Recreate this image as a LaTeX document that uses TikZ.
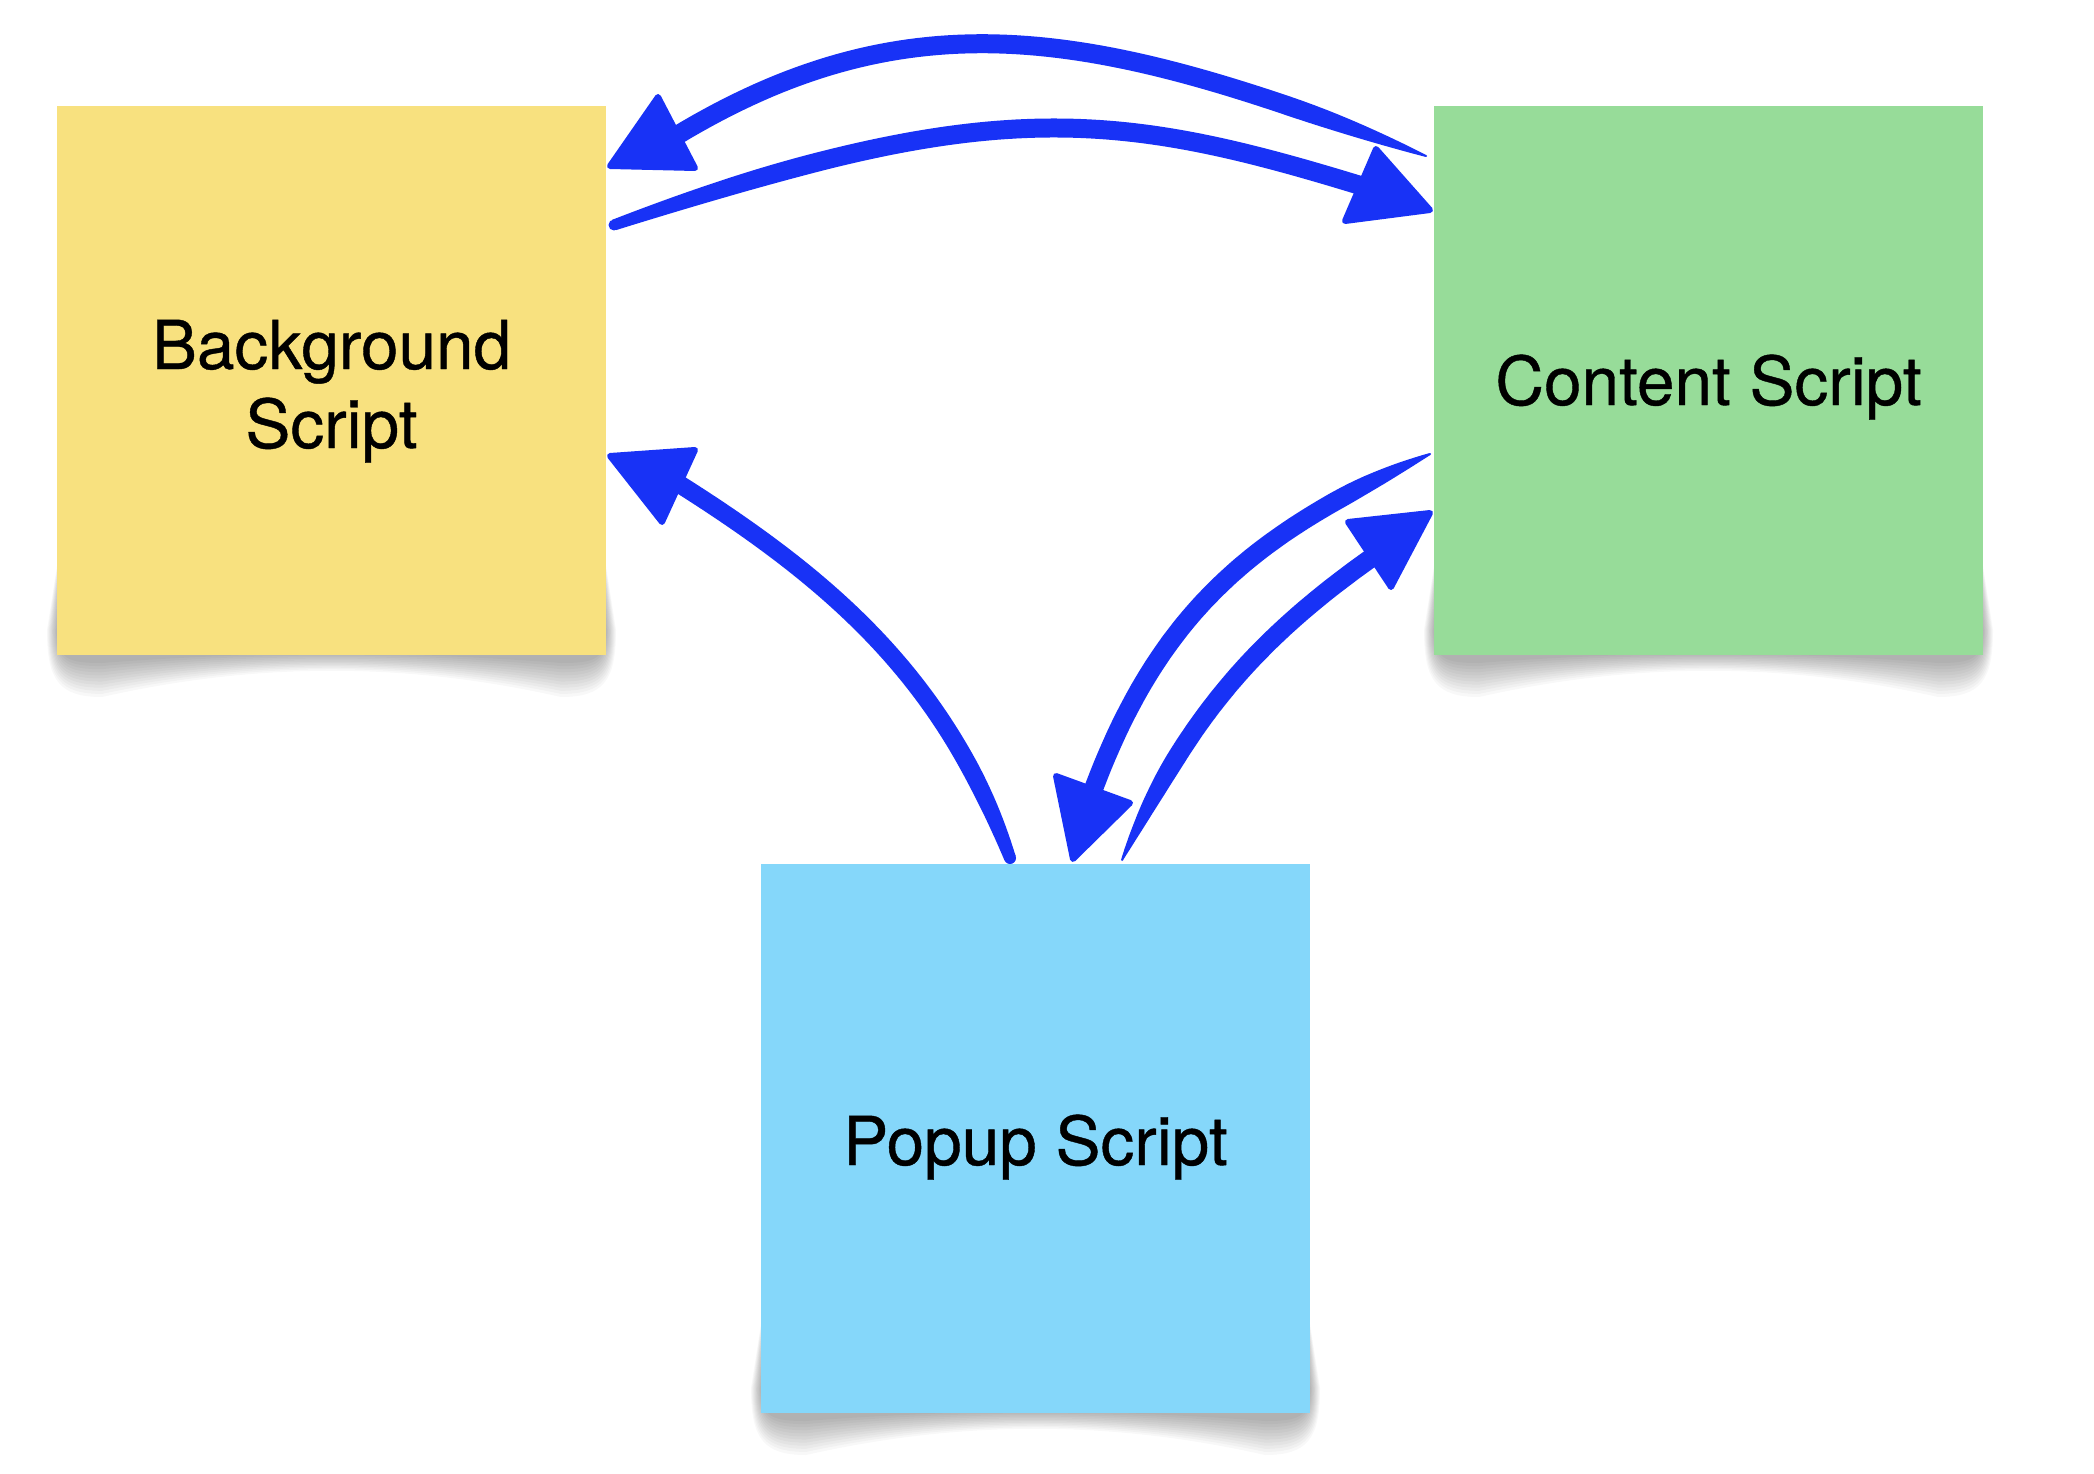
\documentclass[tikz,border=0pt]{standalone}
\usepackage{fontspec}
\setmainfont{TeX Gyre Heros}[FakeBold=0.6]
\definecolor{arrowblue}{RGB}{24,50,246}
\definecolor{stickyyellow}{RGB}{248,225,127}
\definecolor{stickygreen}{RGB}{151,220,153}
\definecolor{stickyblue}{RGB}{133,215,250}
% read the canvas position of a named coordinate into two macros (numbers in pt)
\newcommand\getxy[3]{\pgfpointanchor{#1}{center}\pgfgetlastxy{\gxtmp}{\gytmp}%
  \pgfmathsetmacro#2{\gxtmp}\pgfmathsetmacro#3{\gytmp}}
\tikzset{declare function={
  bzx(\vv)=(1-\vv)^3*\Xa+3*(1-\vv)^2*\vv*\Xb+3*(1-\vv)*\vv^2*\Xc+\vv^3*\Xd;
  bzy(\vv)=(1-\vv)^3*\Ya+3*(1-\vv)^2*\vv*\Yb+3*(1-\vv)*\vv^2*\Yc+\vv^3*\Yd;
  dzx(\vv)=0.03*((1-\vv)^2*(\Xb-\Xa)+2*(1-\vv)*\vv*(\Xc-\Xb)+\vv^2*(\Xd-\Xc));
  dzy(\vv)=0.03*((1-\vv)^2*(\Yb-\Ya)+2*(1-\vv)*\vv*(\Yc-\Yb)+\vv^2*(\Yd-\Yc));
  dzl(\vv)=sqrt(dzx(\vv)^2+dzy(\vv)^2);
  bw(\vv)=\Wmax-(\Wmax-\Wtail)*max(0,1-\vv/\Ttap)^2;
}}
% brush shaft: filled band along the cubic from #1 via #2,#3 to #4 (coordinate names),
% #5 tail width, #6 full width, #7 part of the curve over which it widens
\newcommand\brushshaft[7]{%
  \getxy{#1}\Xa\Ya\getxy{#2}\Xb\Yb\getxy{#3}\Xc\Yc\getxy{#4}\Xd\Yd
  \def\Wtail{#5}\def\Wmax{#6}\def\Ttap{#7}%
  \fill[arrowblue]
    plot[variable=\vv, domain=0:1, samples=71]
      ({(bzx(\vv)-dzy(\vv)/dzl(\vv)*bw(\vv)/2)*1pt},{(bzy(\vv)+dzx(\vv)/dzl(\vv)*bw(\vv)/2)*1pt})
    -- plot[variable=\vv, domain=0:1, samples=71]
      ({(bzx(1-\vv)+dzy(1-\vv)/dzl(1-\vv)*bw(1-\vv)/2)*1pt},{(bzy(1-\vv)-dzx(1-\vv)/dzl(1-\vv)*bw(1-\vv)/2)*1pt})
    -- cycle;
  \fill[arrowblue] (#1) circle[radius={0.5pt*#5}];
}
% soft curled shadow under a note: #1 left x, #2 right x, #3 bottom y
\newcommand\noteshadow[3]{%
  \foreach \sk in {0,...,11}{%
    \pgfmathsetmacro\shT{\sk/11}%
    \pgfmathsetmacro\shE{10*(1-\shT)}%
    \pgfmathsetmacro\shD{8+34*(1-\shT)}%
    \pgfmathsetmacro\shM{7-11*\shT}%
    \fill[black, fill opacity=0.026]
      ({#1+8},{#3-140}) -- ({#1-\shE},{#3-25})
      .. controls ({#1-\shE},{#3+0.6*\shD}) and ({#1-\shE+12},{#3+\shD}) .. ({#1+45},{#3+\shD})
      .. controls ({#1+200},{#3+\shM}) and ({#2-200},{#3+\shM}) .. ({#2-45},{#3+\shD})
      .. controls ({#2+\shE-12},{#3+\shD}) and ({#2+\shE},{#3+0.6*\shD}) .. ({#2+\shE},{#3-25})
      -- ({#2-8},{#3-140}) -- cycle;
  }%
}
\begin{document}
\begin{tikzpicture}[x=1pt,y=-1pt,
  sticky/.style={minimum width=549pt, minimum height=549pt, inner sep=0pt, outer sep=0pt, anchor=north west, draw=none},
  txt/.style={font=\fontsize{67.5}{80}\selectfont, anchor=base, inner sep=0pt, text=black},
  head/.style={fill=arrowblue, draw=arrowblue, line width=6pt, line join=round},
]
\useasboundingbox[fill=white] (0,0) rectangle (2094,1474);

% shadows
\noteshadow{57}{606}{655}
\noteshadow{1434}{1983}{655}
\noteshadow{761}{1310}{1413}

% sticky notes
\node[sticky, fill=stickyyellow] (bg) at (57,106) {};
\node[sticky, fill=stickygreen] (cs) at (1434,106) {};
\node[sticky, fill=stickyblue] (pp) at (761,864) {};

\node[txt] (bgt1) at (331.5,369) {Background};
\node[txt] (bgt2) at (331.5,448) {Script};
\node[txt] (cst) at (1708.5,405) {Content Script};
\node[txt] (ppt) at (1035.5,1165) {Popup Script};

% connector end points and control points
\coordinate (a1s) at (1426,156);  \coordinate (a1c) at (1116,38);  \coordinate (a1d) at (924,-14);  \coordinate (a1e) at (676,136);
\coordinate (a2s) at (614,225);   \coordinate (a2c) at (987,95);   \coordinate (a2d) at (1114,110); \coordinate (a2e) at (1362,186);
\coordinate (a3s) at (1010,858);  \coordinate (a3c) at (945,678);  \coordinate (a3d) at (830,579);  \coordinate (a3e) at (676,482);
\coordinate (a4s) at (1430,454);  \coordinate (a4c) at (1258,532); \coordinate (a4d) at (1160,607); \coordinate (a4e) at (1091,796);
\coordinate (a5s) at (1122,860);  \coordinate (a5c) at (1184,727); \coordinate (a5d) at (1247,645); \coordinate (a5e) at (1377,554);

% Content -> Background (upper arc)
\brushshaft{a1s}{a1c}{a1d}{a1e}{2}{19}{0.16}
\path[head] (658,97) -- (610,166) -- (695,168) -- cycle;

% Background -> Content (lower arc)
\brushshaft{a2s}{a2c}{a2d}{a2e}{11}{19}{0.2}
\path[head] (1376,149) -- (1430,210) -- (1345,221) -- cycle;

% Popup -> Background
\brushshaft{a3s}{a3c}{a3d}{a3e}{12}{18}{0.2}
\path[head] (610,456) -- (695,450) -- (662,522) -- cycle;

% Content -> Popup
\brushshaft{a4s}{a4c}{a4d}{a4e}{2}{19}{0.2}
\path[head] (1056,776) -- (1130,803) -- (1073,859) -- cycle;

% Popup -> Content
\brushshaft{a5s}{a5c}{a5d}{a5e}{2}{19}{0.3}
\path[head] (1348,522) -- (1430,513) -- (1391,587) -- cycle;
\end{tikzpicture}
\end{document}
